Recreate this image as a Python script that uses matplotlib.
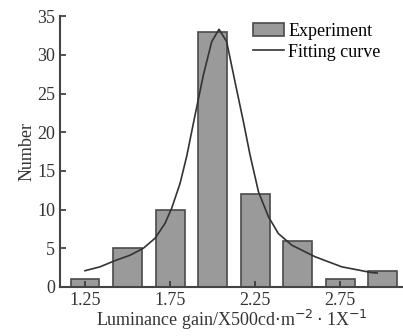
import matplotlib.pyplot as plt
import numpy as np

plt.rcParams['font.family'] = ['Liberation Serif', 'DejaVu Serif']

# histogram data
gain = [1.25, 1.5, 1.75, 2.0, 2.25, 2.5, 2.75, 3.0]
counts = [1, 5, 10, 33, 12, 6, 1, 2]

# fitting curve
fit_x = [1.25, 1.338, 1.426, 1.515, 1.593, 1.662, 1.72, 1.76, 1.809, 1.848,
         1.897, 1.946, 1.995, 2.038, 2.083, 2.132, 2.181, 2.22, 2.27, 2.328,
         2.387, 2.466, 2.603, 2.76, 2.936, 2.968]
fit_y = [2.1, 2.6, 3.4, 4.1, 5.0, 6.3, 8.2, 10.2, 13.4, 16.9,
         22.2, 27.4, 31.7, 33.3, 31.7, 26.5, 21.4, 17.1, 12.3, 9.1,
         6.9, 5.4, 3.9, 2.6, 1.85, 1.8]

fig = plt.figure(figsize=(4.03, 3.36), dpi=100)
ax = fig.add_axes([0.149, 0.146, 0.851, 0.806])

bars = ax.bar(gain, counts, width=0.17, color='#9a9a9a', edgecolor='#4a4a4a',
              linewidth=1.2, label='Experiment')
line, = ax.plot(fit_x, fit_y, color='#333333', lw=1.2, label='Fitting curve')

ax.set_xlim(1.103, 3.12)
ax.set_ylim(0, 35)
ax.set_xticks([1.25, 1.75, 2.25, 2.75])
ax.set_xticklabels(['1.25', '1.75', '2.25', '2.75'])
ax.set_yticks(np.arange(0, 36, 5))
ax.tick_params(direction='in', length=4, width=1.2, labelsize=13, colors='#333333')
ax.tick_params(axis='x', pad=4)

ax.spines['top'].set_visible(False)
ax.spines['right'].set_visible(False)
ax.spines['left'].set_linewidth(1.5)
ax.spines['bottom'].set_linewidth(1.5)
ax.spines['left'].set_color('#444444')
ax.spines['bottom'].set_color('#444444')

ax.set_xlabel('Luminance gain/X500cd$\\cdot$m$^{-2}\\cdot$1X$^{-1}$', fontsize=13,
              labelpad=-1, color='#333333')
ax.set_ylabel('Number', fontsize=13, labelpad=1, color='#333333')

ax.legend([bars, line], ['Experiment', 'Fitting curve'], loc='upper left',
          bbox_to_anchor=(0.563, 0.975), frameon=False, fontsize=13,
          handlelength=1.7, handletextpad=0.25, labelspacing=0.2,
          borderaxespad=0, borderpad=0)

fig.savefig('out.png', dpi=100)
